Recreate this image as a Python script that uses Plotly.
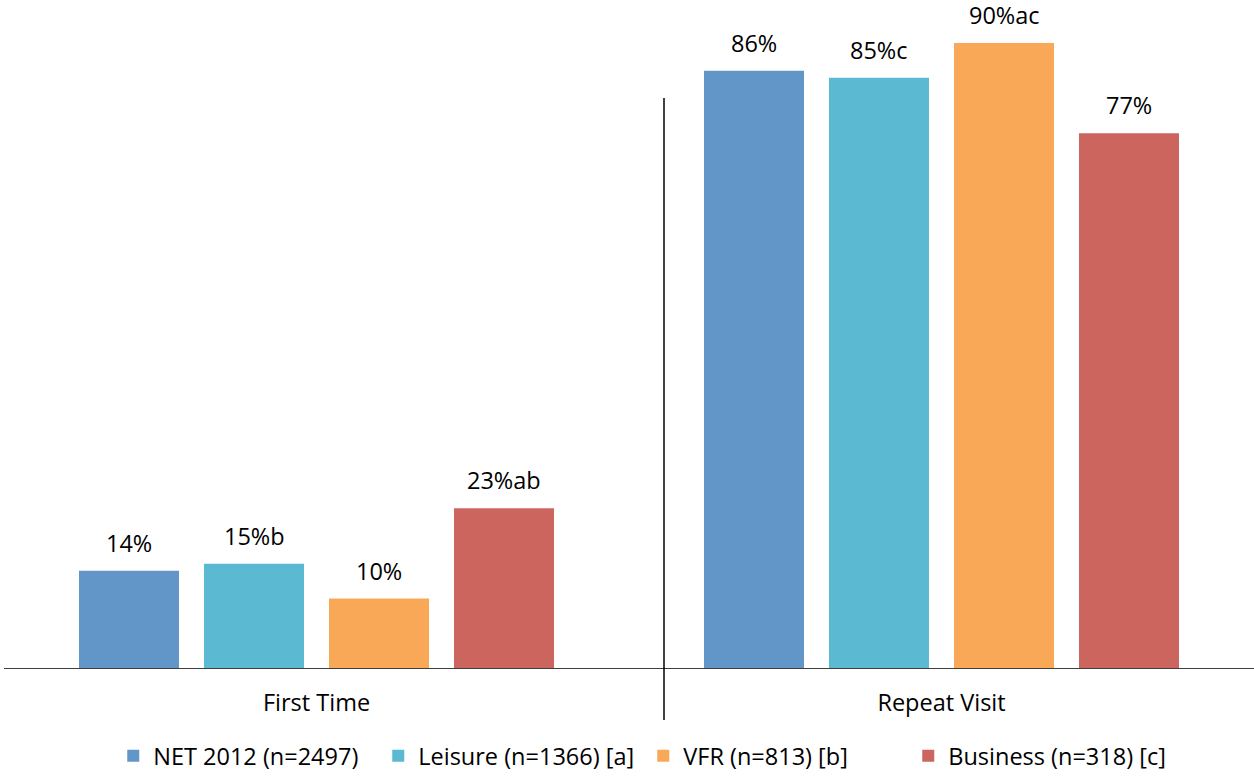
import plotly.graph_objects as go

categories = ["First Time", "Repeat Visit"]
series_names = ["NET 2012 (n=2497)", "Leisure (n=1366) [a]", "VFR (n=813) [b]", "Business (n=318) [c]"]
net_values = [14, 86]
leisure_values = [15, 85]
vfr_values = [10, 90]
business_values = [23, 77]
net_labels = ["14%", "86%"]
leisure_labels = ["15%b", "85%c"]
vfr_labels = ["10%", "90%ac"]
business_labels = ["23%ab", "77%"]

colors = ["#6296C8", "#5BB9D2", "#F9A857", "#CD655F"]
FONT = "Open Sans"
FS = 23.5

all_values = [net_values, leisure_values, vfr_values, business_values]
all_labels = [net_labels, leisure_labels, vfr_labels, business_labels]

fig = go.Figure()
for name, vals, col in zip(series_names, all_values, colors):
    fig.add_trace(go.Bar(
        x=categories, y=vals, name=name,
        marker=dict(color=col, line=dict(width=0)),
    ))

# value labels above each bar (group offsets in category units)
offsets = [-0.3, -0.1, 0.1, 0.3]
for k, (vals, labs) in enumerate(zip(all_values, all_labels)):
    for i, (v, lab) in enumerate(zip(vals, labs)):
        fig.add_annotation(x=i + offsets[k], y=v, xref="x", yref="y", text=lab,
                           showarrow=False, yanchor="middle", yshift=28,
                           font=dict(family=FONT, size=FS, color="#000000"))

fig.update_layout(
    width=1254, height=778,
    margin=dict(l=4, r=0, t=0, b=110, autoexpand=False),
    paper_bgcolor="white", plot_bgcolor="white",
    barmode="group", bargap=0.2, bargroupgap=0.2,
    font=dict(family=FONT, size=FS, color="#000000"),
    showlegend=True,
    legend=dict(orientation="h", x=0.0874, xanchor="left", yref="container",
                y=0.0, yanchor="bottom",
                font=dict(family=FONT, size=FS, color="#000000"),
                entrywidth=220, entrywidthmode="pixels",
                itemwidth=30, traceorder="normal"),
    xaxis=dict(showline=True, linecolor="#404040", linewidth=1, ticks="",
               tickfont=dict(family=FONT, size=FS), ticklabelstandoff=14,
               range=[-0.5, 1.5], showgrid=False, zeroline=False, automargin=False),
    yaxis=dict(visible=False, range=[0, 96.2], showgrid=False, zeroline=False, automargin=False),
)

# category divider line
fig.add_shape(type="line", xref="x", yref="paper", x0=0.556, x1=0.556,
              y0=-(720 - 668) / 668, y1=(668 - 98) / 668,
              line=dict(color="#000000", width=1.5))

fig.write_html("out.html", config={"displayModeBar": False},
               post_script="document.body.style.margin='0px';")
